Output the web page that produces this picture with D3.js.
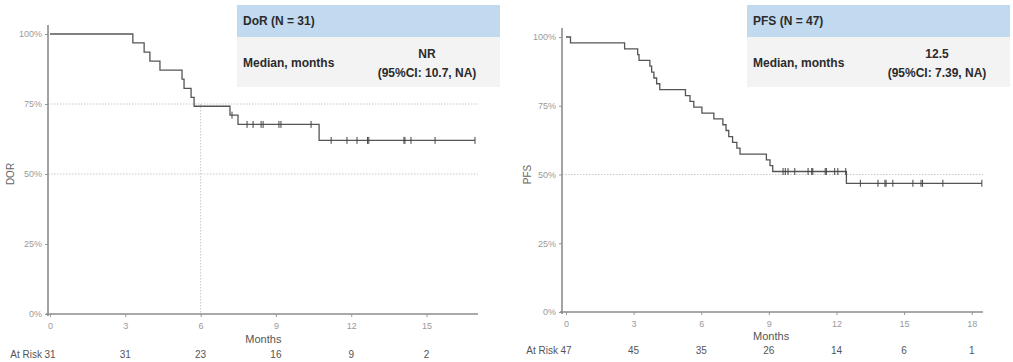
<!DOCTYPE html>
<html>
<head>
<meta charset="utf-8">
<script src="https://cdn.jsdelivr.net/npm/d3@7/dist/d3.min.js"></script>
<style>
  body { margin: 0; background: #fff; }
  svg { font-family: "Liberation Sans", Arial, sans-serif; display: block; }
</style>
</head>
<body>
<script>
// DoR curve (step points)
const dorStepTimes = [0, 3.3, 3.75, 3.98, 4.38, 5.26, 5.34, 5.62, 5.74, 7.17, 7.49, 10.72, 16.93];
const dorStepSurv = [1, 0.968, 0.935, 0.903, 0.871, 0.839, 0.806, 0.774, 0.742, 0.71, 0.677, 0.62, 0.62];
const dorCensor = [7.25, 7.85, 8.09, 8.41, 8.49, 9.12, 9.2, 10.4, 11.2, 11.83, 12.23, 12.65, 12.7, 14.1, 14.14, 14.38, 15.34, 16.93];
const dorRiskTimes = [0, 3, 6, 9, 12, 15];
const dorRisk = [31, 31, 23, 16, 9, 2];

// PFS curve
const pfsStepTimes = [0, 0.2, 2.6, 3.18, 3.24, 3.72, 3.8, 3.9, 4.02, 4.16, 5.3, 5.5, 5.67, 6.03, 6.56, 6.96, 7.1, 7.22, 7.39, 7.58, 7.72, 8.89, 9.05, 9.17, 12.44, 18.45];
const pfsStepSurv = [1, 0.979, 0.957, 0.936, 0.915, 0.894, 0.872, 0.851, 0.83, 0.809, 0.787, 0.766, 0.745, 0.723, 0.702, 0.681, 0.66, 0.638, 0.617, 0.596, 0.574, 0.553, 0.532, 0.511, 0.468, 0.468];
const pfsCensor = [9.63, 9.73, 9.85, 10.15, 10.74, 10.9, 10.95, 11.5, 11.55, 11.92, 12.06, 12.41, 13.06, 13.84, 14.15, 14.2, 14.5, 15.39, 15.75, 15.82, 16.72, 18.45];
const pfsRiskTimes = [0, 3, 6, 9, 12, 15, 18];
const pfsRisk = [47, 45, 35, 26, 14, 6, 1];

const yTicks = [0, 0.25, 0.5, 0.75, 1];

const svg = d3.select("body").append("svg")
  .attr("width", 1013)
  .attr("height", 362);

function survAt(times, surv, t) {
  let s = surv[0];
  for (let i = 0; i < times.length; i++) {
    if (times[i] <= t) s = surv[i];
  }
  return s;
}

function drawKM(c) {
  const g = svg.append("g");
  const x = d3.scaleLinear().domain(c.xDomain).range(c.xRange);
  const y = d3.scaleLinear().domain([0, 1]).range(c.yRange);

  // reference lines
  c.hLines.forEach(v => {
    g.append("line")
      .attr("x1", c.axisX).attr("x2", c.xRange[1])
      .attr("y1", y(v)).attr("y2", y(v))
      .attr("stroke", "#bbb").attr("stroke-width", 0.8)
      .attr("stroke-dasharray", "1.5,1.5");
  });
  if (c.vLine != null) {
    g.append("line")
      .attr("x1", x(c.vLine)).attr("x2", x(c.vLine))
      .attr("y1", y(c.vLineTop)).attr("y2", y(0))
      .attr("stroke", "#bbb").attr("stroke-width", 0.8)
      .attr("stroke-dasharray", "1.5,1.5");
  }

  // y axis
  const yAxis = d3.axisLeft(y).tickValues(yTicks)
    .tickFormat(d => Math.round(d * 100) + "%")
    .tickSize(3).tickSizeOuter(0);
  const ya = g.append("g").attr("transform", `translate(${c.axisX},0)`).call(yAxis);
  ya.select(".domain").remove();
  ya.selectAll("line").attr("stroke", "#999");
  ya.selectAll("text").attr("fill", "#9a9a9a").attr("font-size", 9);
  g.append("line")
    .attr("x1", c.axisX).attr("x2", c.axisX)
    .attr("y1", c.yRange[1] - 9).attr("y2", c.yRange[0] + 2)
    .attr("stroke", "#8c8c8c").attr("stroke-width", 1.6);

  // x axis
  const xAxis = d3.axisBottom(x).tickValues(c.xTicks).tickFormat(d3.format("d"))
    .tickSize(3).tickSizeOuter(0);
  const xa = g.append("g").attr("transform", `translate(0,${c.yRange[0]})`).call(xAxis);
  xa.select(".domain").remove();
  xa.selectAll("line").attr("stroke", "#999");
  xa.selectAll("text").attr("fill", "#9a9a9a").attr("font-size", 9).attr("dy", "1em");
  g.append("line")
    .attr("x1", c.axisX - 2).attr("x2", c.xRange[1])
    .attr("y1", c.yRange[0]).attr("y2", c.yRange[0])
    .attr("stroke", "#8c8c8c").attr("stroke-width", 1.6);

  // axis titles
  g.append("text")
    .attr("transform", `translate(${c.yLabelX},${y(0.5)}) rotate(-90)`)
    .attr("text-anchor", "middle").attr("font-size", 10).attr("fill", "#666")
    .text(c.yLabel);
  g.append("text")
    .attr("x", x(c.monthsAt)).attr("y", c.monthsY)
    .attr("text-anchor", "middle").attr("font-size", 11).attr("fill", "#555")
    .text("Months");

  // curve
  const pts = c.times.map((t, i) => [t, c.surv[i]]);
  const line = d3.line().x(d => x(d[0])).y(d => y(d[1])).curve(d3.curveStepAfter);
  g.append("path").datum(pts)
    .attr("d", line)
    .attr("fill", "none").attr("stroke", "#555").attr("stroke-width", 1.3);

  // censor marks
  g.selectAll(null).data(c.censor).join("line")
    .attr("x1", d => x(d)).attr("x2", d => x(d))
    .attr("y1", d => y(survAt(c.times, c.surv, d)) - 3.5)
    .attr("y2", d => y(survAt(c.times, c.surv, d)) + 3.5)
    .attr("stroke", "#444").attr("stroke-width", 1);

  // at risk row
  g.append("text")
    .attr("x", x(0) - 8).attr("y", c.riskY)
    .attr("text-anchor", "end").attr("font-size", 10).attr("fill", "#555")
    .text("At Risk");
  g.selectAll(null).data(c.riskTimes).join("text")
    .attr("x", d => x(d)).attr("y", c.riskY)
    .attr("text-anchor", "middle").attr("font-size", 10).attr("fill", "#555")
    .text((d, i) => c.risk[i]);

  // info box
  const b = c.box;
  g.append("rect").attr("x", b.x).attr("y", 5).attr("width", b.w).attr("height", 32)
    .attr("fill", "#c1daf0");
  g.append("rect").attr("x", b.x).attr("y", 37).attr("width", b.w).attr("height", 50)
    .attr("fill", "#f3f3f3");
  g.append("text").attr("x", b.x + 6).attr("y", 25)
    .attr("font-size", 12).attr("font-weight", "bold").attr("fill", "#2b2b2b")
    .text(b.title);
  g.append("text").attr("x", b.x + 6).attr("y", 67)
    .attr("font-size", 12).attr("font-weight", "bold").attr("fill", "#2b2b2b")
    .text("Median, months");
  g.append("text").attr("x", b.valueX).attr("y", 58)
    .attr("text-anchor", "middle").attr("font-size", 12).attr("font-weight", "bold").attr("fill", "#2b2b2b")
    .text(b.value);
  g.append("text").attr("x", b.valueX).attr("y", 77)
    .attr("text-anchor", "middle").attr("font-size", 12).attr("font-weight", "bold").attr("fill", "#2b2b2b")
    .text(b.ci);
}

drawKM({
  xDomain: [0, 17.05], xRange: [50, 478], yRange: [314, 34],
  axisX: 48, xTicks: [0, 3, 6, 9, 12, 15],
  hLines: [0.75, 0.5], vLine: 6, vLineTop: 0.75,
  yLabel: "DOR", yLabelX: 14, monthsAt: 8.5, monthsY: 343, riskY: 358,
  times: dorStepTimes, surv: dorStepSurv, censor: dorCensor,
  riskTimes: dorRiskTimes, risk: dorRisk,
  box: { x: 237, w: 263, title: "DoR (N = 31)", value: "NR", ci: "(95%CI: 10.7, NA)", valueX: 427 }
});

drawKM({
  xDomain: [0, 18.5], xRange: [566, 983], yRange: [312, 37],
  axisX: 562, xTicks: [0, 3, 6, 9, 12, 15, 18],
  hLines: [0.5], vLine: null,
  yLabel: "PFS", yLabelX: 531, monthsAt: 9.1, monthsY: 340, riskY: 354,
  times: pfsStepTimes, surv: pfsStepSurv, censor: pfsCensor,
  riskTimes: pfsRiskTimes, risk: pfsRisk,
  box: { x: 747, w: 263, title: "PFS (N = 47)", value: "12.5", ci: "(95%CI: 7.39, NA)", valueX: 937 }
});
</script>
</body>
</html>
